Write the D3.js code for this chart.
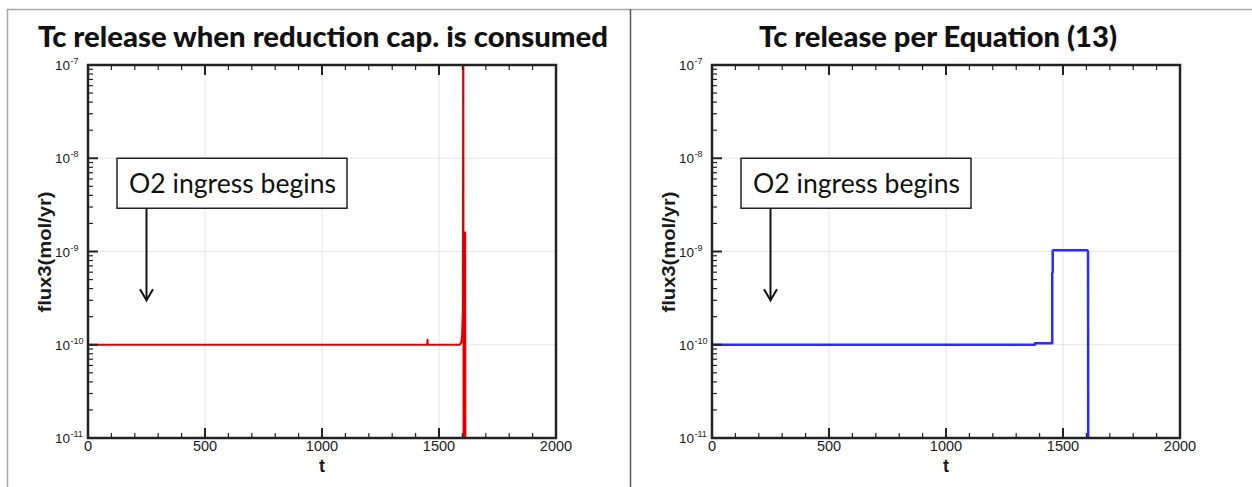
<!DOCTYPE html>
<html>
<head>
<meta charset="utf-8">
<script src="https://cdn.jsdelivr.net/npm/d3@7"></script>
<style>
  body { margin: 0; background: #fff; }
  svg { display: block; }
  .tick-lab { font-family: "Liberation Sans", Arial, sans-serif; fill: #1a1a1a; }
</style>
</head>
<body>
<svg id="chart" width="1252" height="487"></svg>
<script>
"use strict";

// ---- data ----
var titles = ["Tc release when reduction cap. is consumed", "Tc release per Equation (13)"];
var noteText = "O2 ingress begins";
var xTicks = [0, 500, 1000, 1500, 2000];
var yDecades = [1e-11, 1e-10, 1e-9, 1e-8, 1e-7];

// left panel: red trace
var tRed = [0, 1450, 1451, 1452, 1588, 1595, 1599, 1602, 1603.5, 1604, 1605, 1611, 1612, 1613];
var fRed = [1e-10, 1e-10, 1.13e-10, 1e-10, 1e-10, 1.05e-10, 1.3e-10, 2.5e-10, 3e-7, 3e-7, 5e-12, 5e-12, 1.6e-9, 5e-12];

// right panel: blue trace
var tBlue = [0, 1380, 1381, 1454, 1454, 1456, 1456, 1459, 1604, 1607, 1608];
var fBlue = [1e-10, 1e-10, 1.04e-10, 1.04e-10, 5.9e-10, 6.0e-10, 1.02e-9, 1.03e-9, 1.03e-9, 1.0e-9, 5e-12];

// annotation: box corner (t, flux) and arrow tip
var noteBox = {t: 124, f: 1e-8};
var noteArrow = {t: 250, f: 3e-10};

var svg = d3.select("#chart");

// frame lines
svg.append("line").attr("x1", 7).attr("x2", 1252).attr("y1", 9.5).attr("y2", 9.5)
  .attr("stroke", "#a8a8a8").attr("stroke-width", 1.5);
svg.append("line").attr("x1", 7.5).attr("x2", 7.5).attr("y1", 9).attr("y2", 487)
  .attr("stroke", "#a8a8a8").attr("stroke-width", 1.5);
svg.append("line").attr("x1", 630.5).attr("x2", 630.5).attr("y1", 9).attr("y2", 487)
  .attr("stroke", "#555").attr("stroke-width", 1.5);

function drawPanel(idx, left, titleX, tData, fData, color, lw) {
  var top = 65, bottom = 438, right = left + 468;
  var x = d3.scaleLinear().domain([0, 2000]).range([left, right]);
  var y = d3.scaleLog().domain([1e-11, 1e-7]).range([bottom, top]);
  var g = svg.append("g");

  // title
  g.append("text")
    .attr("x", titleX).attr("y", 47)
    .attr("text-anchor", "middle")
    .style("font-family", "Lato, 'Open Sans', sans-serif")
    .style("font-weight", "900")
    .style("font-size", "28px")
    .attr("fill", "#111")
    .attr("textLength", idx == 0 ? 570 : 358).attr("lengthAdjust", "spacingAndGlyphs")
    .text(titles[idx]);

  // grid
  g.selectAll(".gx").data([500, 1000, 1500]).enter().append("line")
    .attr("x1", d => x(d)).attr("x2", d => x(d)).attr("y1", top).attr("y2", bottom)
    .attr("stroke", "#e4e4e4").attr("stroke-width", 1);
  g.selectAll(".gy").data([1e-10, 1e-9, 1e-8]).enter().append("line")
    .attr("x1", left).attr("x2", right).attr("y1", d => y(d)).attr("y2", d => y(d))
    .attr("stroke", "#e4e4e4").attr("stroke-width", 1);

  // clip + trace
  var clipId = "clip" + idx;
  svg.append("clipPath").attr("id", clipId).append("rect")
    .attr("x", left).attr("y", top).attr("width", right - left).attr("height", bottom - top);
  var pts = tData.map((t, i) => [t, fData[i]]);
  g.append("path")
    .datum(pts)
    .attr("clip-path", "url(#" + clipId + ")")
    .attr("fill", "none")
    .attr("stroke", color)
    .attr("stroke-width", lw)
    .attr("stroke-linejoin", "round")
    .attr("d", d3.line().x(d => x(d[0])).y(d => y(d[1])));

  // annotation box + arrow
  var bx = x(noteBox.t), by = y(noteBox.f);
  g.append("rect").attr("x", bx).attr("y", by).attr("width", 230).attr("height", 50)
    .attr("fill", "#fff").attr("stroke", "#222").attr("stroke-width", 1.5);
  g.append("text").attr("x", bx + 12).attr("y", by + 35)
    .style("font-family", "Lato, 'Open Sans', sans-serif")
    .style("font-size", "27px").attr("fill", "#111")
    .attr("textLength", 207).attr("lengthAdjust", "spacingAndGlyphs")
    .text(noteText);
  var ax = x(noteArrow.t), ay = y(noteArrow.f);
  g.append("line").attr("x1", ax).attr("x2", ax).attr("y1", by + 50).attr("y2", ay)
    .attr("stroke", "#111").attr("stroke-width", 2);
  g.append("path")
    .attr("d", "M" + (ax - 6.5) + "," + (ay - 11) + "L" + ax + "," + ay + "L" + (ax + 6.5) + "," + (ay - 11))
    .attr("fill", "none").attr("stroke", "#111").attr("stroke-width", 2);

  // ticks: x major/minor on bottom and top, inward
  var xMinor = d3.range(0, 2001, 100).filter(d => d % 500 != 0);
  var tickCol = "#222";
  [bottom, top].forEach(function(yy) {
    var dir = yy == bottom ? -1 : 1;
    g.selectAll(null).data(xTicks).enter().append("line")
      .attr("x1", d => x(d)).attr("x2", d => x(d)).attr("y1", yy).attr("y2", yy + dir * 10)
      .attr("stroke", tickCol).attr("stroke-width", 2);
    g.selectAll(null).data(xMinor).enter().append("line")
      .attr("x1", d => x(d)).attr("x2", d => x(d)).attr("y1", yy).attr("y2", yy + dir * 5)
      .attr("stroke", tickCol).attr("stroke-width", 1.2);
  });
  // y ticks on left, inward
  var yMinor = [];
  yDecades.slice(0, -1).forEach(function(d) {
    for (var k = 2; k <= 9; k++) yMinor.push(d * k);
  });
  g.selectAll(null).data(yDecades).enter().append("line")
    .attr("x1", left).attr("x2", left + 10).attr("y1", d => y(d)).attr("y2", d => y(d))
    .attr("stroke", tickCol).attr("stroke-width", 2);
  g.selectAll(null).data(yMinor).enter().append("line")
    .attr("x1", left).attr("x2", left + 5).attr("y1", d => y(d)).attr("y2", d => y(d))
    .attr("stroke", tickCol).attr("stroke-width", 1.2);

  // axis frame (no ticks on right)
  g.append("rect").attr("x", left).attr("y", top).attr("width", right - left).attr("height", bottom - top)
    .attr("fill", "none").attr("stroke", "#222").attr("stroke-width", 2.5);

  // x tick labels
  g.selectAll(null).data(xTicks).enter().append("text")
    .attr("class", "tick-lab")
    .attr("x", d => x(d)).attr("y", 451)
    .attr("text-anchor", "middle")
    .style("font-size", "14.5px")
    .text(d => d);
  g.append("text").attr("class", "tick-lab")
    .attr("x", x(1000)).attr("y", 472).attr("text-anchor", "middle")
    .style("font-size", "18px").style("font-weight", "bold")
    .text("t");

  // y tick labels 10^n
  var yl = g.selectAll(null).data(yDecades).enter().append("g")
    .attr("transform", d => "translate(" + (left - 18) + "," + y(d) + ")");
  yl.append("text").attr("class", "tick-lab")
    .attr("text-anchor", "end").attr("y", 5)
    .style("font-size", "13.5px").attr("fill", "#333")
    .text("10");
  yl.append("text").attr("class", "tick-lab")
    .attr("x", 0.5).attr("y", -1)
    .style("font-size", "9px").attr("fill", "#333")
    .text(d => "-" + Math.round(-Math.log10(d)));

  g.append("text").attr("class", "tick-lab")
    .attr("transform", "translate(" + (left - 37) + "," + 252 + ") rotate(-90)")
    .attr("text-anchor", "middle")
    .style("font-size", "18px").style("font-weight", "bold")
    .attr("textLength", 121).attr("lengthAdjust", "spacingAndGlyphs")
    .text("flux3(mol/yr)");
}

drawPanel(0, 88, 323, tRed, fRed, "#e00000", 2);
drawPanel(1, 712, 938, tBlue, fBlue, "#2b2bff", 2.5);
</script>
</body>
</html>
